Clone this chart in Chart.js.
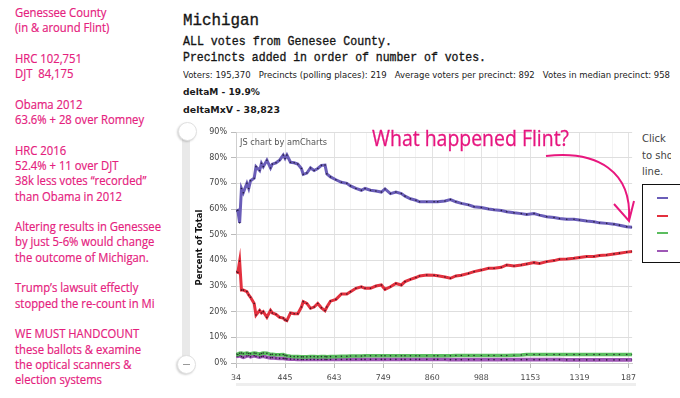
<!DOCTYPE html>
<html><head><meta charset="utf-8">
<script src="https://cdn.jsdelivr.net/npm/chart.js@4/dist/chart.umd.min.js"></script>
<style>
html,body{margin:0;padding:0;width:680px;height:398px;overflow:hidden;background:#fff;}
body{position:relative;}
.t{position:absolute;white-space:nowrap;transform-origin:0 50%;}
#left{position:absolute;left:15px;top:5px;font-family:"Open Sans";font-size:13px;line-height:15.3px;color:#e5207d;white-space:pre;transform-origin:0 0;-webkit-text-stroke:0.2px #e5207d;}
.mono{font-family:"Liberation Mono";color:#151515;-webkit-text-stroke:0.35px #151515;}
.geo{font-family:"DejaVu Sans";color:#1a1a1a;}
#cw{position:absolute;left:180px;top:118px;width:461px;height:280px;}
.knob{position:absolute;width:17px;height:17px;border-radius:50%;background:#fff;border:1px solid #e0e0e0;box-shadow:-1px 1px 2px rgba(0,0,0,.18);}
</style></head><body>
<div id="left" data-w="146">Genessee County
(in &amp; around Flint)

HRC 102,751
DJT  84,175

Obama 2012
63.6% + 28 over Romney

HRC 2016
52.4% + 11 over DJT
38k less votes “recorded”
than Obama in 2012

Altering results in Genessee
by just 5-6% would change
the outcome of Michigan.

Trump’s lawsuit effectly
stopped the re-count in Mi

WE MUST HANDCOUNT
these ballots &amp; examine
the optical scanners &amp;
election systems</div>

<div class="t mono" style="left:183px;top:12px;font-size:17px;line-height:17px" data-w="76">Michigan</div>
<div class="t mono" style="left:183px;top:34.5px;font-size:13px;line-height:14px" data-w="209">ALL votes from Genesee County.</div>
<div class="t mono" style="left:183px;top:50.5px;font-size:13px;line-height:14px" data-w="303">Precincts added in order of number of votes.</div>
<div class="t geo" style="left:183px;top:71px;font-size:8px;line-height:10px" data-w="487">Voters: 195,370 &nbsp; Precincts (polling places): 219 &nbsp; Average voters per precinct: 892 &nbsp; Votes in median precinct: 958</div>
<div class="t geo" style="left:183px;top:87px;font-size:9px;line-height:10px;font-weight:bold" data-w="77">deltaM - 19.9%</div>
<div class="t geo" style="left:183px;top:105px;font-size:9px;line-height:10px;font-weight:bold" data-w="97">deltaMxV - 38,823</div>

<div id="cw"><canvas id="c" width="461" height="280"></canvas></div>

<div style="position:absolute;left:182px;top:136px;width:8px;height:222px;background:#e9e9e9"></div>
<div class="knob" style="left:178px;top:122px"></div>
<div class="knob" style="left:177px;top:355px"><div style="position:absolute;left:5px;top:8px;width:7px;height:1px;background:#999"></div></div>
<div style="position:absolute;left:236px;top:383px;width:400px;height:3px;background:#eeeeee"></div>

<div class="t geo" style="left:240px;top:138px;font-size:8px;line-height:10px;color:#555" data-w="87">JS chart by amCharts</div>
<div class="t" style="left:372px;top:126px;font-family:'Open Sans';font-size:22px;line-height:22px;color:#e6157f;-webkit-text-stroke:0.3px #e6157f" data-w="197">What happened Flint?</div>

<div style="position:absolute;left:642px;top:131px;width:29px;height:50px;overflow:hidden;font-family:'DejaVu Sans';font-size:10px;line-height:16.5px;color:#444;white-space:nowrap">Click &nbsp;on the legend<br>to show/hide a<br>line.</div>
<div id="leg" style="position:absolute;left:642px;top:184px;width:60px;height:77px;border:1.5px solid #111;background:#fff"></div>

<svg style="position:absolute;left:0;top:0" width="680" height="398">
<path d="M546,156 C598,150 632,172 629,220" fill="none" stroke="#e8177e" stroke-width="2"/>
<path d="M614,204 L629,221 L634,201" fill="none" stroke="#e8177e" stroke-width="2" stroke-linejoin="miter"/>
</svg>

<script>
// precinct index (precincts sorted by number of votes)
const precinct = [0,1,2,3,4,6,7,8,10,11,13,14,15,17,19,20,22,24,26,27,28,30,32,34,36,37,39,41,43,45,47,49,50,52,55,58,61,63,66,69,71,74,77,80,82,85,88,91,93,96,99,101,105,109,111,115,118,121,124,128,131,135,139,142,146,149,153,157,160,164,167,171,175,178,182,186,189,193,197,200,204,208,211,215,218];
const xTickLabels = ['34','445','643','749','860','988','1153','1319','187'];
const clinton = [59.2,59.5,54.6,68,66.3,70,68,71,72,76.5,75,77.8,76.5,79,76,77.5,78,79,81,79.7,81,78.2,78,77.5,75.8,73.5,74,76,75,75.8,77,77.1,73.7,72.5,71.4,70.4,70,69,68,67.3,68,67.3,67,66.6,67.8,66,66.6,66,65,64,63.4,62.8,62.8,62.8,62.8,63.1,63.7,62.8,62.2,61.6,60.9,60.6,60,59.7,59.4,58.9,58.5,58.2,57.9,58.2,57.6,57,56.7,56.3,56,56,55.7,55.3,55,54.6,54.4,54.1,53.7,53.1,52.9];
const trump = [35.6,35.3,39.7,28.4,28.4,27.8,26.5,25.6,23.2,18.7,20.5,19.5,20,17.8,20.5,19.5,19,17.8,17.5,16.8,16.5,19.5,19.2,19.2,21.8,23.9,23.2,21.3,21.8,23.2,21.5,20.4,21.8,24.1,24.8,26.9,26.9,27.8,29.1,29.7,29.1,29.1,30,30.4,28.7,29.7,31,30.4,31.7,32.6,33.3,33.9,34.3,34.2,34,33.5,33,33.9,34.2,34.9,35.6,36.2,36.9,36.9,37.3,38.2,37.8,38.2,38.6,39.1,38.8,39.5,39.9,40.4,40.5,40.8,41.1,41.5,41.5,41.9,42.1,42.5,42.8,43.2,43.4];
const johnson = [3.5,3.3,3.8,3.9,3.6,3.9,3.7,3.6,3.9,3.8,3.4,3.7,3.9,3.8,3.3,3.4,3.2,3.2,3.3,3.0,2.8,2.6,2.5,2.5,2.4,2.4,2.4,2.5,2.5,2.4,2.5,2.5,2.4,2.5,2.5,2.6,2.6,2.7,2.7,2.7,2.8,2.8,2.8,2.8,2.8,2.8,2.8,2.8,2.8,2.8,2.8,2.8,2.8,2.8,2.8,2.8,2.8,2.9,2.9,2.9,2.9,2.9,2.9,2.9,2.9,2.9,3.0,3.1,3.3,3.3,3.3,3.3,3.3,3.3,3.3,3.3,3.3,3.3,3.3,3.3,3.3,3.3,3.3,3.3,3.3];
const stein = [2.8,2.6,2.9,2.5,2.2,2.7,2.9,2.4,2.8,2.6,2.3,2.5,2.6,2.2,2.0,2.1,1.9,1.8,1.8,1.7,1.6,1.5,1.5,1.4,1.4,1.4,1.4,1.4,1.4,1.4,1.4,1.4,1.4,1.4,1.4,1.4,1.4,1.4,1.4,1.4,1.4,1.4,1.4,1.4,1.4,1.4,1.4,1.4,1.4,1.4,1.4,1.4,1.4,1.4,1.4,1.4,1.3,1.3,1.3,1.3,1.3,1.3,1.3,1.3,1.3,1.3,1.3,1.3,1.3,1.3,1.3,1.3,1.3,1.3,1.2,1.2,1.2,1.2,1.2,1.2,1.2,1.2,1.2,1.2,1.2];
const seriesNames = ['Clinton','Trump','Johnson','Stein'];
const seriesColors = ['#6a5db8','#e3303e','#5bbd5f','#9e57b5'];
const seriesValues = [clinton, trump, johnson, stein];
const labelStep = 27;

function fit(){
  document.querySelectorAll('[data-w]').forEach(el=>{
    el.style.transform='none';
    const w = el.getBoundingClientRect().width;
    if (w>0) el.style.transform = 'scaleX(' + (parseFloat(el.dataset.w)/w) + ')';
  });
}
fit();
if (document.fonts && document.fonts.ready) document.fonts.ready.then(fit);

// legend swatches
const leg = document.getElementById('leg');
seriesColors.forEach((c,i)=>{
  const d = document.createElement('div');
  d.style.cssText = 'position:absolute;left:14px;width:11px;height:2px;background:'+c+';top:'+(12+i*17.7)+'px';
  leg.appendChild(d);
});

const datasets = seriesValues.map((vals,i)=>({
  label: seriesNames[i],
  data: vals.map((v,k)=>({x:precinct[k], y:v})),
  borderColor: seriesColors[i],
  backgroundColor: seriesColors[i],
  borderWidth: i<2 ? 3 : 3.6,
  pointRadius: 0.8,
  pointBorderWidth: 0,
  pointBackgroundColor: 'rgba(20,15,30,0.8)',
  tension: 0,
  fill: false
}));

new Chart(document.getElementById('c'), {
  type: 'line',
  data: { datasets },
  options: {
    responsive: false,
    animation: false,
    events: [],
    layout: { padding: { top: 14, right: 5, left: 0, bottom: 0 } },
    plugins: { legend: { display: false }, tooltip: { enabled: false } },
    scales: {
      x: {
        type: 'linear', min: 0, max: 218,
        afterFit(s){ s.height = 35; },
        ticks: {
          stepSize: 9, includeBounds: false, autoSkip: false, maxRotation: 0, padding: 5,
          font: { family: 'DejaVu Sans', size: 7.8 }, color: '#444',
          callback: v => (v % labelStep === 0 ? xTickLabels[v / labelStep] : '')
        },
        grid: {
          color: c => (c.tick && c.tick.value % labelStep === 0) ? '#e3e3e3' : '#f3f3f3',
          tickLength: 5,
          tickColor: c => (c.tick && c.tick.value % labelStep === 0) ? '#bbb' : 'rgba(0,0,0,0)'
        },
        border: { color: '#cfcfcf' }
      },
      y: {
        min: 0, max: 90,
        afterFit(s){ s.width = 56; },
        ticks: { stepSize: 10, padding: 4, font: { family: 'DejaVu Sans', size: 8 }, color: '#444', callback: v => v + '%' },
        grid: { color: '#dedede', tickLength: 5, tickColor: '#bbb' },
        border: { color: '#cfcfcf' },
        title: { display: true, text: 'Percent of Total', color: '#111',
          font: { family: 'DejaVu Sans', size: 8.5, weight: 'bold' }, padding: { top: 15, bottom: 0 } }
      }
    }
  }
});
</script>
</body></html>
